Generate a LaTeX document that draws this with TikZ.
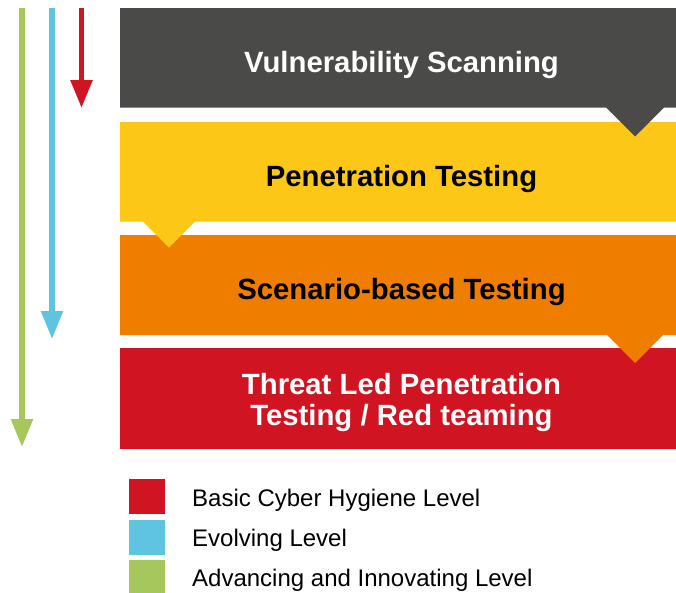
\documentclass[tikz,border=0pt]{standalone}
\usepackage{fontspec}
\setmainfont{Liberation Sans}
\usetikzlibrary{arrows.meta}
\definecolor{cgray}{HTML}{4A4A49}
\definecolor{cyellow}{HTML}{FDC717}
\definecolor{corange}{HTML}{EF7D00}
\definecolor{cred}{HTML}{D01422}
\definecolor{cblue}{HTML}{5FC4E2}
\definecolor{cgreen}{HTML}{A5C75C}
\tikzset{
  levelarrow/.style={line width=5.5pt, -{Triangle[width=21pt,length=28pt]}},
  title/.style={anchor=base, font=\bfseries\fontsize{29.3}{32}\selectfont, align=center, inner sep=0pt},
  legendbox/.style={minimum width=36pt, minimum height=35pt, inner sep=0pt, anchor=north west},
  legendtext/.style={anchor=base west, font=\fontsize{24}{26}\selectfont, inner sep=0pt},
}
\begin{document}
\begin{tikzpicture}[x=1pt,y=-1pt]
\useasboundingbox (0,0) rectangle (676,592);

% level arrows
\coordinate (g0) at (22,8);   \coordinate (g1) at (22,447);
\coordinate (b0) at (52,8);   \coordinate (b1) at (52,339);
\coordinate (r0) at (81.5,8); \coordinate (r1) at (81.5,108);
\draw[levelarrow, cgreen] (g0) -- (g1);
\draw[levelarrow, cblue] (b0) -- (b1);
\draw[levelarrow, cred] (r0) -- (r1);

% stacked stages, bottom first so each pointer overlaps the next stage
\fill[cred] (120,348) rectangle (676,449);
\fill[corange] (120,235) -- (676,235) -- (676,335) -- (663,335) -- (635,363)
  -- (607,335) -- (120,335) -- cycle;
\fill[cyellow] (120,122) -- (676,122) -- (676,221.5) -- (195,221.5) -- (169,247.5)
  -- (143,221.5) -- (120,221.5) -- cycle;
\fill[cgray] (120,8) -- (676,8) -- (676,107.5) -- (664,107.5) -- (635,136.5)
  -- (606,107.5) -- (120,107.5) -- cycle;

\node[title, white] (t1) at (401.5,72) {Vulnerability Scanning};
\node[title, black] (t2) at (401.5,186) {Penetration Testing};
\node[title, black] (t3) at (401.5,299) {Scenario-based Testing};
\node[title, white] (t4a) at (401.5,394) {Threat Led Penetration};
\node[title, white] (t4b) at (401.5,425.5) {Testing / Red teaming};

% legend
\node[legendbox, fill=cred] (k1) at (129,479) {};
\node[legendbox, fill=cblue] (k2) at (129,519.5) {};
\node[legendbox, fill=cgreen] (k3) at (129,559.5) {};
\node[legendtext] (l1) at (192,506) {Basic Cyber Hygiene Level};
\node[legendtext] (l2) at (192,546) {Evolving Level};
\node[legendtext] (l3) at (192,586) {Advancing and Innovating Level};
\end{tikzpicture}
\end{document}
